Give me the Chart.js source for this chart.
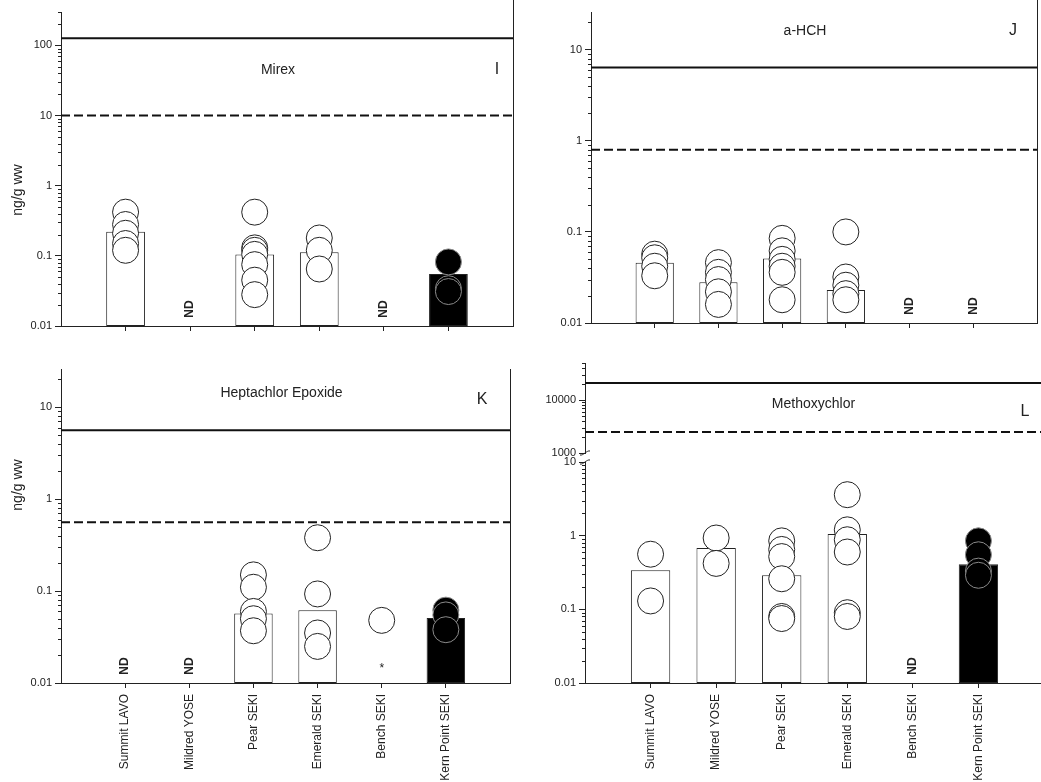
<!DOCTYPE html>
<html>
<head>
<meta charset="utf-8">
<script src="https://cdn.jsdelivr.net/npm/chart.js@4.4.1/dist/chart.umd.min.js"></script>
<style>
  html, body { margin: 0; padding: 0; background: #fff; width: 1041px; height: 782px; overflow: hidden; position: relative; }
  canvas { position: absolute; }
</style>
</head>
<body>
<canvas id="pMirex"></canvas>
<canvas id="pHch"></canvas>
<canvas id="pHepox"></canvas>
<canvas id="pMethoxyHigh"></canvas>
<canvas id="pMethoxyLow"></canvas>
<script>
// Sampling sites (x axis)
const sites = ['Summit LAVO', 'Mildred YOSE', 'Pear SEKI', 'Emerald SEKI', 'Bench SEKI', 'Kern Point SEKI'];
const majorTicks = [0.01, 0.1, 1, 10, 100, 1000, 10000];

// Mirex (ng/g ww)
const mirexMeans = [0.22, null, 0.105, 0.113, null, 0.055];
const mirexFish = [
  [0.42, 0.28, 0.21, 0.15, 0.12],
  [],
  [0.42, 0.13, 0.12, 0.105, 0.075, 0.045, 0.028],
  [0.18, 0.12, 0.065],
  [],
  [0.082, 0.034, 0.031]
];
const mirexGuides = [127, 10];        // [solid, dashed]
const mirexND = [1, 4];

// a-HCH (ng/g ww)
const hchMeans = [0.046, 0.028, 0.051, 0.023, null, null];
const hchFish = [
  [0.057, 0.052, 0.042, 0.033],
  [0.046, 0.036, 0.03, 0.022, 0.016],
  [0.085, 0.062, 0.05, 0.042, 0.036, 0.018],
  [0.1, 0.032, 0.026, 0.021, 0.018],
  [],
  []
];
const hchGuides = [6.4, 0.8];
const hchND = [4, 5];

// Heptachlor Epoxide (ng/g ww)
const hepoxMeans = [null, null, 0.057, 0.062, null, 0.051];
const hepoxFish = [
  [],
  [],
  [0.15, 0.11, 0.06, 0.05, 0.037],
  [0.38, 0.093, 0.035, 0.025],
  [0.048],
  [0.062, 0.055, 0.038]
];
const hepoxGuides = [5.6, 0.56];
const hepoxND = [0, 1];
const hepoxNotes = [null, null, null, null, '*', null];

// Methoxychlor (ng/g ww)
const methoxyMeans = [0.34, 0.68, 0.29, 1.05, null, 0.41];
const methoxyFish = [
  [0.56, 0.13],
  [0.93, 0.42],
  [0.85, 0.65, 0.52, 0.26, 0.08, 0.075],
  [3.6, 1.2, 0.88, 0.6, 0.09, 0.08],
  [],
  [0.85, 0.55, 0.33, 0.29]
];
const methoxyGuides = [21000, 2500];
const methoxyND = [4];

// Styling per site: Kern Point SEKI is drawn filled
const siteFill = ['#fff', '#fff', '#fff', '#fff', '#fff', '#000'];
const siteRing = ['#222', '#222', '#222', '#222', '#222', '#8a8a8a'];

const FONT = '"Liberation Sans", Arial, Helvetica, sans-serif';
const INK = '#222';

// Extra drawing: minor log ticks, right frame, captions, ND flags, axis breaks
const decor = {
  id: 'decor',
  afterDraw(chart, args, o) {
    const { ctx, chartArea: a, scales } = chart;
    const x = scales.x, y = scales.y;
    ctx.save();
    ctx.strokeStyle = INK;
    ctx.lineWidth = 1;

    // minor ticks on the log axis
    const lo = Math.floor(Math.log10(y.min) + 1e-9), hi = Math.ceil(Math.log10(y.max) - 1e-9);
    ctx.beginPath();
    for (let d = lo; d < hi; d++) {
      for (let k = 2; k <= 9; k++) {
        const v = k * Math.pow(10, d);
        if (v < y.min * 0.999 || v > y.max * 1.001) continue;
        const py = Math.round(y.getPixelForValue(v)) + 0.5;
        ctx.moveTo(a.left - 3, py);
        ctx.lineTo(a.left, py);
      }
    }
    ctx.stroke();

    // right frame line
    if (o.frame) {
      ctx.beginPath();
      ctx.moveTo(Math.round(a.right) + 0.5, a.top - (o.frameExtra || 0));
      ctx.lineTo(Math.round(a.right) + 0.5, a.bottom);
      ctx.stroke();
    }

    // axis break marks
    const breakMark = (px, py) => {
      ctx.beginPath();
      ctx.moveTo(px - 5, py + 2);
      ctx.bezierCurveTo(px - 2, py + 3, px + 2, py - 3, px + 5, py - 2);
      ctx.stroke();
    };
    if (o.breakAt === 'bottom') breakMark(a.left, a.bottom);
    if (o.breakAt === 'top') breakMark(a.left, a.top);

    ctx.fillStyle = INK;
    ctx.textAlign = 'center';
    ctx.textBaseline = 'middle';

    // y-axis title
    if (o.yTitle) {
      ctx.save();
      ctx.font = '14px ' + FONT;
      ctx.translate(o.yTitleX, (a.top + a.bottom) / 2 + o.yTitleDy);
      ctx.rotate(-Math.PI / 2);
      ctx.fillText(o.yTitle, 0, 0);
      ctx.restore();
    }

    // panel title and letter
    if (o.title) {
      ctx.font = '14px ' + FONT;
      ctx.fillText(o.title, (a.left + a.right) / 2 + (o.titleDx || 0), a.top + o.titleDy);
    }
    if (o.letter) {
      ctx.font = '16px ' + FONT;
      ctx.fillText(o.letter, a.right - o.letterDx, a.top + o.letterDy);
    }

    // not-detected flags
    if (o.nd) {
      ctx.font = 'bold 12px ' + FONT;
      o.nd.forEach(i => {
        ctx.save();
        ctx.translate(x.getPixelForValue(i + 1), a.bottom - 17);
        ctx.rotate(-Math.PI / 2);
        ctx.fillText('ND', 0, 0);
        ctx.restore();
      });
    }
    if (o.notes) {
      ctx.font = '12px ' + FONT;
      o.notes.forEach((t, i) => {
        if (t) ctx.fillText(t, x.getPixelForValue(i + 1), a.bottom - 14);
      });
    }
    ctx.restore();
  }
};

function buildPanel(id, box, area, spec) {
  const cv = document.getElementById(id);
  cv.width = box.w; cv.height = box.h;
  cv.style.left = box.x + 'px'; cv.style.top = box.y + 'px';
  cv.style.width = box.w + 'px'; cv.style.height = box.h + 'px';

  const showX = spec.showX !== false;
  const yW = area.l - box.x;
  const xH = showX ? box.y + box.h - area.b : 0;

  const datasets = [];
  if (spec.means) {
    datasets.push({
      type: 'bar',
      data: spec.means.map((v, i) => ({ x: i + 1, y: v })),
      backgroundColor: siteFill,
      borderColor: INK,
      borderWidth: 1,
      borderSkipped: false,
      barPercentage: 0.6,
      categoryPercentage: 1,
      order: 3
    });
  }
  if (spec.fish) {
    const pts = [], fills = [], rings = [];
    spec.fish.forEach((arr, i) => arr.forEach(v => {
      pts.push({ x: i + 1, y: v });
      fills.push(siteFill[i]);
      rings.push(siteRing[i]);
    }));
    datasets.push({
      type: 'scatter',
      data: pts,
      pointRadius: 13,
      pointHoverRadius: 13,
      pointBackgroundColor: fills,
      pointBorderColor: rings,
      pointBorderWidth: 1,
      order: 1
    });
  }
  if (spec.guides) {
    spec.guides.forEach((g, k) => {
      datasets.push({
        type: 'line',
        data: [{ x: 0, y: g }, { x: 7, y: g }],
        borderColor: '#111',
        borderWidth: 2,
        borderDash: k === 1 ? [9, 4] : [],
        pointRadius: 0,
        order: 2
      });
    });
  }

  return new Chart(cv, {
    type: 'bar',
    data: { datasets },
    options: {
      responsive: false,
      animation: false,
      events: [],
      layout: {
        autoPadding: false,
        padding: {
          left: 0,
          top: area.t - box.y,
          right: box.x + box.w - area.r,
          bottom: showX ? 0 : box.y + box.h - area.b
        }
      },
      plugins: {
        legend: { display: false },
        tooltip: { enabled: false },
        decor: spec.decor
      },
      scales: {
        x: {
          type: 'linear',
          display: showX,
          min: 0, max: 7,
          offset: false,
          afterBuildTicks: s => { s.ticks = sites.map((_, i) => ({ value: i + 1 })); },
          ticks: {
            display: !!spec.xLabels,
            autoSkip: false,
            minRotation: 90, maxRotation: 90,
            padding: 6,
            color: INK,
            font: { family: FONT, size: 12 },
            callback: v => sites[v - 1]
          },
          grid: { drawOnChartArea: false, drawTicks: true, tickLength: 5, color: INK, offset: false },
          border: { display: true, color: INK, width: 1 },
          afterFit: s => {
            s.height = xH;
            s.paddingLeft = 0; s.paddingRight = 0; s.paddingTop = 0; s.paddingBottom = 0;
          }
        },
        y: {
          type: 'logarithmic',
          min: spec.yMin, max: spec.yMax,
          afterBuildTicks: s => {
            s.ticks = majorTicks.filter(v => v >= spec.yMin * 0.999 && v <= spec.yMax * 1.001).map(v => ({ value: v, major: true }));
          },
          ticks: {
            autoSkip: false,
            padding: 3,
            color: INK,
            font: { family: FONT, size: 11 },
            callback: v => String(v)
          },
          grid: { drawOnChartArea: false, drawTicks: true, tickLength: 6, color: INK },
          border: { display: true, color: INK, width: 1 },
          afterFit: s => {
            s.width = yW;
            s.paddingLeft = 0; s.paddingRight = 0; s.paddingTop = 0; s.paddingBottom = 0;
          }
        }
      }
    },
    plugins: [decor]
  });
}

// I — Mirex
buildPanel('pMirex', { x: 0, y: 0, w: 520, h: 340 }, { l: 61, t: 12, r: 513, b: 326 }, {
  means: mirexMeans, fish: mirexFish, guides: mirexGuides,
  yMin: 0.01, yMax: 300,
  decor: { frame: true, frameExtra: 12, yTitle: 'ng/g ww', yTitleX: 18, yTitleDy: 21,
           title: 'Mirex', titleDx: -9, titleDy: 58, letter: 'I', letterDx: 16, letterDy: 58, nd: mirexND }
});

// J — a-HCH
buildPanel('pHch', { x: 520, y: 0, w: 521, h: 340 }, { l: 591, t: 12, r: 1037, b: 323 }, {
  means: hchMeans, fish: hchFish, guides: hchGuides,
  yMin: 0.01, yMax: 26,
  decor: { frame: true, frameExtra: 12, title: 'a-HCH', titleDx: -9, titleDy: 19, letter: 'J', letterDx: 24, letterDy: 19, nd: hchND }
});

// K — Heptachlor Epoxide
buildPanel('pHepox', { x: 0, y: 340, w: 520, h: 442 }, { l: 61, t: 369, r: 510, b: 683 }, {
  means: hepoxMeans, fish: hepoxFish, guides: hepoxGuides,
  yMin: 0.01, yMax: 26, xLabels: true,
  decor: { frame: true, yTitle: 'ng/g ww', yTitleX: 18, yTitleDy: -41,
           title: 'Heptachlor Epoxide', titleDx: -4, titleDy: 24, letter: 'K', letterDx: 28, letterDy: 31, nd: hepoxND, notes: hepoxNotes }
});

// L — Methoxychlor, upper segment of the broken axis (guideline levels)
buildPanel('pMethoxyHigh', { x: 520, y: 340, w: 525, h: 126 }, { l: 585, t: 363, r: 1044, b: 453 }, {
  guides: methoxyGuides,
  yMin: 1000, yMax: 50000, showX: false,
  decor: { frame: true, breakAt: 'bottom', title: 'Methoxychlor', titleDx: -1, titleDy: 41, letter: 'L', letterDx: 19, letterDy: 49 }
});

// L — Methoxychlor, lower segment with the fish data
buildPanel('pMethoxyLow', { x: 520, y: 450, w: 525, h: 332 }, { l: 585, t: 462, r: 1044, b: 683 }, {
  means: methoxyMeans, fish: methoxyFish,
  yMin: 0.01, yMax: 10, xLabels: true,
  decor: { frame: true, breakAt: 'top', nd: methoxyND }
});
</script>
</body>
</html>
